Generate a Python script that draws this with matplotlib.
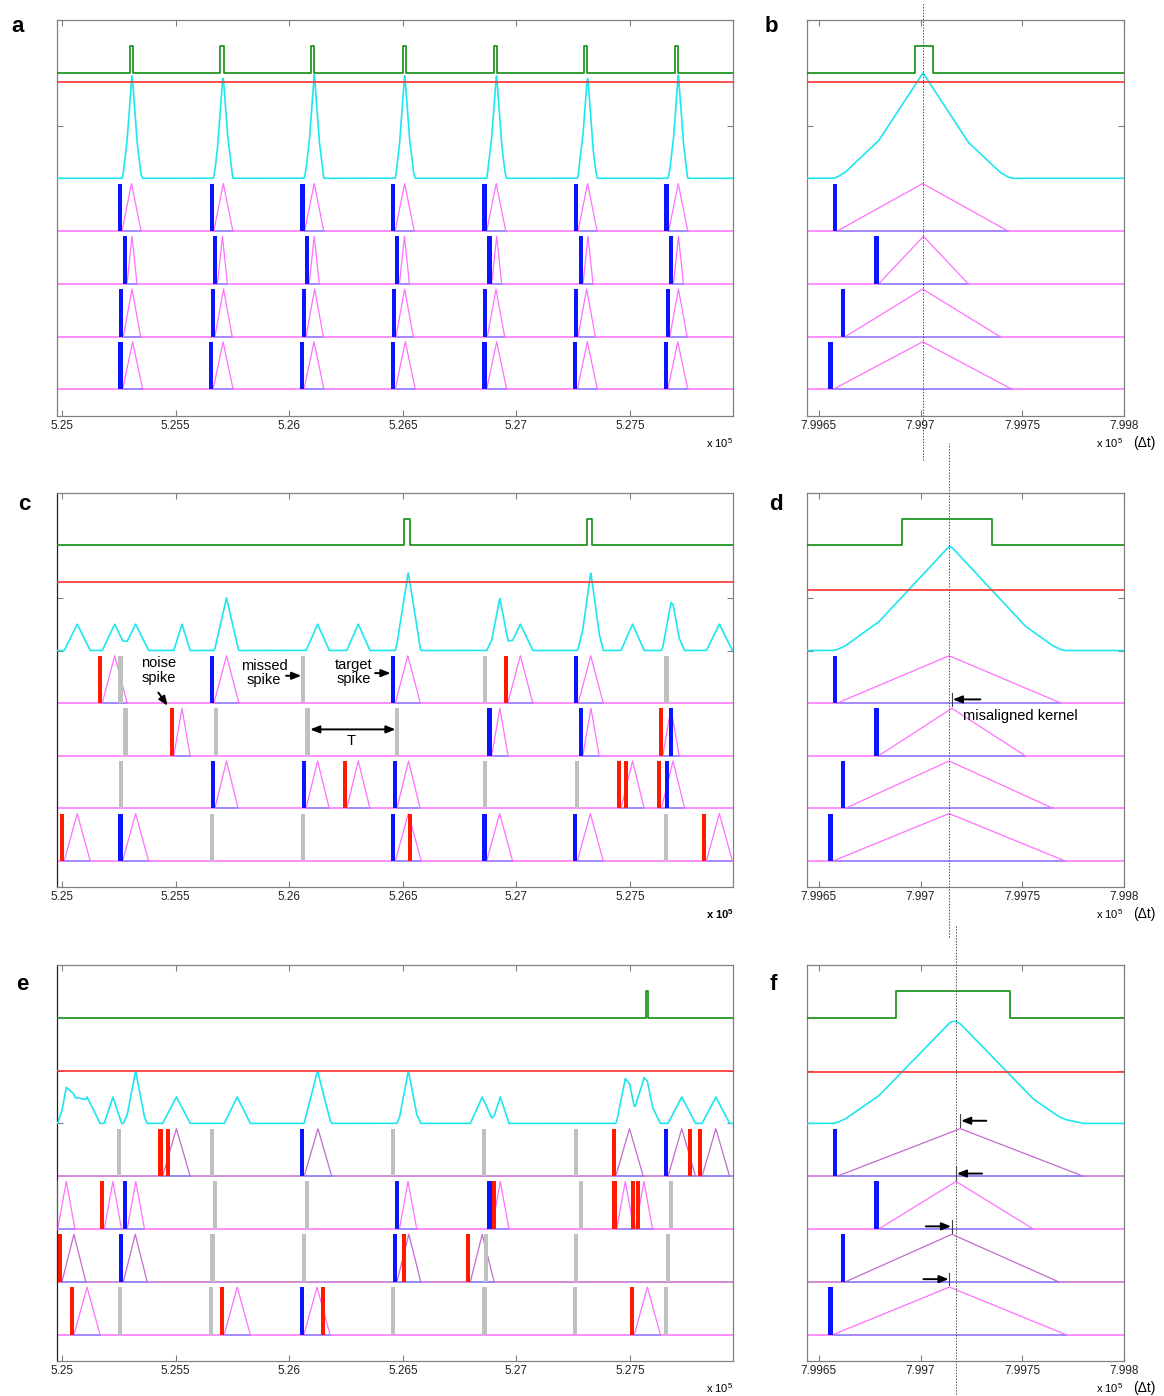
import matplotlib.pyplot as plt
import numpy as np

plt.rcParams['font.family'] = ['Liberation Sans', 'DejaVu Sans']
plt.rcParams['mathtext.fontset'] = 'custom'
plt.rcParams['mathtext.rm'] = 'Liberation Sans'
plt.rcParams['mathtext.it'] = 'Liberation Sans:italic'
plt.rcParams['mathtext.bf'] = 'Liberation Sans:bold'

W, H = 1164, 1396

# Axis ticks (time in units of 10^5 dt)
ticks_long = [5.25, 5.255, 5.26, 5.265, 5.27, 5.275]
labels_long = ["5.25", "5.255", "5.26", "5.265", "5.27", "5.275"]
ticks_zoom = [7.9965, 7.997, 7.9975, 7.998]
labels_zoom = ["7.9965", "7.997", "7.9975", "7.998"]
xlim_long = (5.24978, 5.27953)
xlim_zoom = (7.99644, 7.998)

# Row layout: four input trains stacked under the summed output
ROW_Y = [3.5, 2.5, 1.5, 0.5]
CYAN_BASE = 4.5
GREEN_BASE = 6.5
SPK_H = 0.9
GREEN_H = 0.5

# Kernel half-widths per input row (top row first)
delay_ab = [0.00042, 0.00022, 0.00038, 0.00044]
delay_cd = [0.00055, 0.00036, 0.00051, 0.00057]
delay_ef = [0.000605, 0.00038, 0.000524, 0.000572]

# Thresholds (red line)
thr = {"a": 6.32, "b": 6.32, "c": 5.8, "d": 5.65, "e": 5.5, "f": 5.47}

# Spike times, panel a (all target spikes)
a_blue = [
    [5.25264, 5.25668, 5.26068, 5.26466, 5.26869, 5.27271, 5.27670],
    [5.25286, 5.25684, 5.26088, 5.26485, 5.26891, 5.27293, 5.27691],
    [5.25270, 5.25673, 5.26074, 5.26470, 5.26872, 5.27271, 5.27675],
    [5.25267, 5.25665, 5.26065, 5.26467, 5.26869, 5.27268, 5.27666],
]
a_red = [[], [], [], []]
a_gray = [[], [], [], []]

# Spike times, panel c
c_blue = [
    [5.25669, 5.26467, 5.27272],
    [5.26891, 5.27292, 5.27691],
    [5.25673, 5.26074, 5.26474, 5.27673],
    [5.25267, 5.26467, 5.26869, 5.27268],
]
c_red = [
    [5.25177, 5.26962],
    [5.25492, 5.27644],
    [5.26253, 5.27460, 5.27491, 5.27638],
    [5.25010, 5.26542, 5.27836],
]
c_gray = [
    [5.25267, 5.26070, 5.26872, 5.27670],
    [5.25289, 5.25688, 5.26090, 5.26485],
    [5.25270, 5.26872, 5.27276],
    [5.25668, 5.26070, 5.27669],
]

# Spike times, panel e
e_blue = [
    [5.26066, 5.27667],
    [5.25287, 5.26485, 5.26891],
    [5.25270, 5.26474],
    [5.26065],
]
e_red = [
    [5.25443, 5.25477, 5.27437, 5.27774, 5.27817],
    [5.24981, 5.25186, 5.26912, 5.27441, 5.27523, 5.27544],
    [5.25000, 5.26513, 5.26797],
    [5.25053, 5.25714, 5.26158, 5.27519],
]
e_gray = [
    [5.25261, 5.25668, 5.26467, 5.26868, 5.27272],
    [5.25682, 5.26088, 5.27292, 5.27689],
    [5.25672, 5.26074, 5.26874, 5.27270, 5.27675],
    [5.25265, 5.25665, 5.26467, 5.26869, 5.27267, 5.27666],
]

# Zoomed window: one target spike per row
zoom_blue = [[7.99659], [7.996794], [7.99663], [7.99657]]
no_spikes = [[], [], [], []]

# Output pulses (green): on / off times
green_on = {
    "a": [5.25300, 5.25697, 5.26096, 5.26500, 5.26899, 5.27298, 5.27699],
    "b": [7.99697], "c": [5.26506, 5.27309], "d": [7.99691],
    "e": [5.27570], "f": [7.99688],
}
green_off = {
    "a": [5.25314, 5.25711, 5.26110, 5.26514, 5.26913, 5.27312, 5.27713],
    "b": [7.99706], "c": [5.26532, 5.27331], "d": [7.99735],
    "e": [5.27578], "f": [7.99744],
}

GREEN = '#128c12'
THR_RED = '#ff3030'
CYAN = '#1ee6ee'
PINK = '#ff70ff'
PURPLE = '#c46ad0'
KBLUE = '#8a8aff'
BLUE = '#0a14ff'
RED = '#ff1a00'
GRAY = '#c0c0c0'
FRAME = '#808080'

fig = plt.figure(figsize=(W / 100, H / 100), dpi=100)


def add_axes(x0, y0, x1, y1):
    return fig.add_axes([x0 / W, 1 - y1 / H, (x1 - x0) / W, (y1 - y0) / H])


def setup(ax, xlim, ticks, labels, dark_left=False):
    ax.set_xlim(xlim)
    ax.set_ylim(0, 7.5)
    ax.set_xticks(ticks)
    ax.set_xticklabels(labels)
    ax.set_yticks([4.5, 5.5])
    ax.set_yticklabels([])
    ax.tick_params(direction='in', length=4.5, width=0.8, color=FRAME,
                   top=True, right=True, labelsize=8.5, pad=3,
                   labelcolor='#222222')
    for s in ax.spines.values():
        s.set_color(FRAME)
        s.set_linewidth(0.9)
    if dark_left:
        ax.spines['left'].set_color('#222222')


def draw(ax, key, xlim, blue, red, gray, delays, bar_w, kcolors=None):
    kcolors = kcolors or [PINK] * 4
    x = np.linspace(xlim[0], xlim[1], 20000)
    total = np.zeros_like(x)
    peaks = []
    for r, y0 in enumerate(ROW_Y):
        d = delays[r]
        ax.plot(xlim, [y0, y0], color=kcolors[r], lw=1.1, zorder=2)
        # a spike starts a kernel unless the row's previous kernel is still running
        onsets = []
        last_end = -np.inf
        for t in sorted(blue[r] + red[r]):
            if t >= last_end:
                onsets.append(t)
                last_end = t + 2 * d
        for t in onsets:
            ax.plot([t, t + 2 * d], [y0, y0], color=KBLUE, lw=1.1, zorder=3)
            ax.plot([t, t + d, t + 2 * d], [y0, y0 + SPK_H, y0],
                    color=kcolors[r], lw=0.9, zorder=3)
            total += np.interp(x, [t, t + d, t + 2 * d], [0, 1, 0],
                               left=0, right=0)
        peaks.append([t + d for t in onsets])
        for times, col in ((gray[r], GRAY), (red[r], RED), (blue[r], BLUE)):
            if times:
                ax.bar(times, SPK_H, width=-bar_w, bottom=y0, align='edge',
                       color=col, lw=0, zorder=4)
    # summed kernel output
    ax.plot(x, CYAN_BASE + 0.5 * total, color=CYAN, lw=1.2, zorder=3)
    ax.plot(xlim, [thr[key], thr[key]], color=THR_RED, lw=1.2, zorder=3.5)
    gx, gy = [xlim[0]], [GREEN_BASE]
    for on, off in zip(green_on[key], green_off[key]):
        gx += [on, on, off, off]
        gy += [GREEN_BASE, GREEN_BASE + GREEN_H, GREEN_BASE + GREEN_H, GREEN_BASE]
    gx.append(xlim[1])
    gy.append(GREEN_BASE)
    ax.plot(gx, gy, color=GREEN, lw=1.2, zorder=3)
    return peaks


LW_BAR = 4.2 * (xlim_long[1] - xlim_long[0]) / 676
ZW_BAR = 4.7 * (xlim_zoom[1] - xlim_zoom[0]) / 317.3
EF_COLORS = [PURPLE, PINK, PURPLE, PINK]

ax_a = add_axes(57, 20, 733, 415.7)
ax_b = add_axes(806.7, 20, 1124, 415.7)
ax_c = add_axes(57, 492.7, 733, 887.2)
ax_d = add_axes(806.7, 492.7, 1124, 887.2)
ax_e = add_axes(57, 965, 733, 1361)
ax_f = add_axes(806.7, 965, 1124, 1361)

for ax in (ax_a, ax_c, ax_e):
    setup(ax, xlim_long, ticks_long, labels_long, dark_left=ax is not ax_a)
for ax in (ax_b, ax_d, ax_f):
    setup(ax, xlim_zoom, ticks_zoom, labels_zoom)

draw(ax_a, "a", xlim_long, a_blue, a_red, a_gray, delay_ab, LW_BAR)
pk_b = draw(ax_b, "b", xlim_zoom, zoom_blue, no_spikes, no_spikes, delay_ab, ZW_BAR)
draw(ax_c, "c", xlim_long, c_blue, c_red, c_gray, delay_cd, LW_BAR)
pk_d = draw(ax_d, "d", xlim_zoom, zoom_blue, no_spikes, no_spikes, delay_cd, ZW_BAR)
draw(ax_e, "e", xlim_long, e_blue, e_red, e_gray, delay_ef, LW_BAR, EF_COLORS)
pk_f = draw(ax_f, "f", xlim_zoom, zoom_blue, no_spikes, no_spikes, delay_ef, ZW_BAR, EF_COLORS)

# dotted guides through the aligned kernel peaks
guide = dict(color='#505050', lw=0.7, ls=(0, (1.5, 1.5)), clip_on=False, zorder=5)
ax_b.axvline(pk_b[0][0], ymin=-0.112, ymax=1.045, **guide)
ax_d.axvline(pk_d[0][0], ymin=-0.127, ymax=1.126, **guide)
ax_f.axvline(7.997175, ymin=-0.09, ymax=1.098, **guide)

arrow = dict(arrowstyle='-|>,head_length=0.55,head_width=0.22', color='k',
             lw=1.4, shrinkA=0, shrinkB=0)

# panel c annotations
ax_c.text(5.25427, 4.12, "noise\nspike", ha='center', va='center',
          fontsize=10.5, linespacing=1.05, zorder=6)
ax_c.annotate("", xy=(5.25465, 3.45), xytext=(5.25424, 3.70),
              arrowprops=arrow, zorder=6)
ax_c.text(5.25890, 4.07, "missed\nspike", ha='center', va='center',
          fontsize=10.5, linespacing=1.05, zorder=6)
ax_c.annotate("", xy=(5.26053, 4.02), xytext=(5.25986, 4.02),
              arrowprops=arrow, zorder=6)
ax_c.text(5.26282, 4.09, "target\nspike", ha='center', va='center',
          fontsize=10.5, linespacing=1.05, zorder=6)
ax_c.annotate("", xy=(5.26446, 4.07), xytext=(5.26378, 4.07),
              arrowprops=arrow, zorder=6)
ax_c.annotate("", xy=(5.26468, 3.0), xytext=(5.26092, 3.0),
              arrowprops=dict(arrow, arrowstyle='<|-|>,head_length=0.55,head_width=0.22'),
              zorder=6)
ax_c.text(5.26272, 2.78, "T", ha='center', va='center', fontsize=10.5, zorder=6)

# panel d annotation
px = pk_d[1][0]
ax_d.plot([px, px], [3.45, 3.69], color='#404040', lw=0.8, zorder=6)
ax_d.annotate("", xy=(px + 0.000004, 3.57), xytext=(px + 0.00014, 3.57),
              arrowprops=arrow, zorder=6)
ax_d.text(7.99721, 3.25, "misaligned kernel", ha='left', va='center',
          fontsize=10.5, zorder=6)

# panel f arrows: direction each kernel peak has to move
arrow_dir_f = [-1, -1, 1, 1]
for r, y0 in enumerate(ROW_Y):
    px = pk_f[r][0]
    ya = y0 + SPK_H + 0.15
    ax_f.plot([px, px], [ya - 0.12, ya + 0.12], color='#404040', lw=0.8, zorder=6)
    tail = px - arrow_dir_f[r] * 0.000128
    ax_f.annotate("", xy=(px - arrow_dir_f[r] * 0.000004, ya), xytext=(tail, ya),
                  arrowprops=arrow, zorder=6)


def fig_text(px, py, s, **kw):
    fig.text(px / W, 1 - py / H, s, **kw)


for lab, (px, py) in zip("abcdef", [(18, 27), (771, 26), (24, 505), (776, 505),
                                     (22, 985), (773, 984)]):
    fig_text(px, py, lab, fontsize=16, fontweight='bold', ha='center', va='center')

for py in (443, 914, 1388):
    bold = py == 914
    fig_text(706, py, r"x 10$^{\mathbf{5}}$" if bold else r"x 10$^{5}$",
             fontsize=8, ha='left', va='center',
             fontweight='bold' if bold else 'normal')
    fig_text(1096.5, py, r"x 10$^{5}$", fontsize=8, ha='left', va='center')
    fig_text(1133, py, "(\u0394t)", fontsize=10, ha='left', va='center')

fig.savefig("out.png", dpi=100, facecolor='white')
